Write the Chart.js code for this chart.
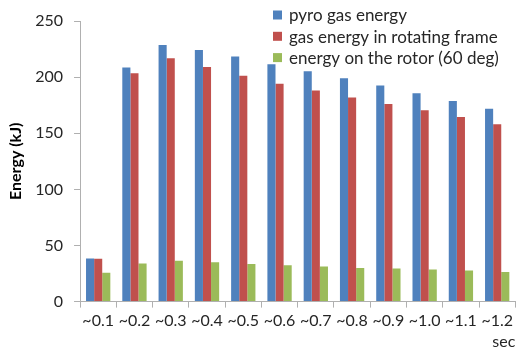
<!DOCTYPE html>
<html>
<head>
<meta charset="utf-8">
<script src="https://cdn.jsdelivr.net/npm/chart.js@4/dist/chart.umd.min.js"></script>
<style>
  html, body { margin: 0; padding: 0; background: #fff; }
  #wrap { width: 517px; height: 353px; }
</style>
</head>
<body>
<div id="wrap"><canvas id="c" width="517" height="353"></canvas></div>
<script>
// Time buckets (seconds)
const categories = ['~0.1', '~0.2', '~0.3', '~0.4', '~0.5', '~0.6', '~0.7', '~0.8', '~0.9', '~1.0', '~1.1', '~1.2'];

// Energy in kJ
const pyroGasEnergy   = [38.5, 208.5, 228.6, 224.1, 218.4, 211.5, 205.2, 198.9, 192.6, 185.7, 178.8, 171.9];
const rotatingFrame   = [38.2, 203.4, 216.9, 209.1, 201.3, 194.1, 188.1, 181.8, 176.1, 170.4, 164.4, 158.1];
const rotorEnergy60   = [25.8, 34.0, 36.3, 35.1, 33.6, 32.4, 31.2, 30.0, 29.4, 28.5, 27.6, 26.4];

const yTicks = [0, 50, 100, 150, 200, 250];

const FONT = 'Lato, "Open Sans", sans-serif';
const axisColor = '#b0b0b0';
const textColor = '#262626';

// Legend floating over the upper-right part of the plot
const floatingLegend = {
  id: 'floatingLegend',
  afterDraw(chart) {
    const ctx = chart.ctx;
    const left = 273, top = 15, rowGap = 21.3, box = 9;
    ctx.save();
    ctx.font = '17px ' + FONT;
    ctx.textBaseline = 'middle';
    ctx.textAlign = 'left';
    chart.data.datasets.forEach((ds, i) => {
      const cy = top + i * rowGap;
      ctx.fillStyle = ds.backgroundColor;
      ctx.fillRect(left, cy - box / 2, box, box);
      ctx.fillStyle = textColor;
      ctx.fillText(ds.label, left + 16, cy + 1);
    });
    ctx.restore();
  }
};

new Chart(document.getElementById('c'), {
  type: 'bar',
  data: {
    labels: categories,
    datasets: [
      { label: 'pyro gas energy', data: pyroGasEnergy, backgroundColor: '#4f81bd' },
      { label: 'gas energy in rotating frame', data: rotatingFrame, backgroundColor: '#c0504d' },
      { label: 'energy on the rotor (60 deg)', data: rotorEnergy60, backgroundColor: '#9bbb59' }
    ]
  },
  plugins: [floatingLegend],
  options: {
    responsive: false,
    animation: false,
    devicePixelRatio: 1,
    datasets: { bar: { categoryPercentage: 0.67, barPercentage: 1.0 } },
    layout: { padding: { top: 21, right: 0, left: 6, bottom: 2 } },
    plugins: {
      tooltip: { enabled: false },
      legend: { display: false }
    },
    scales: {
      x: {
        offset: true,
        grid: { display: true, drawOnChartArea: false, drawTicks: true, tickLength: 6, color: axisColor, offset: true },
        border: { display: true, color: axisColor },
        ticks: { font: { family: FONT, size: 16 }, color: textColor, padding: 4, maxRotation: 0, autoSkip: false },
        title: { display: true, text: 'sec', align: 'end', font: { family: FONT, size: 16 }, color: textColor, padding: { top: -3, bottom: 0 } }
      },
      y: {
        min: 0,
        max: 250,
        afterBuildTicks: (scale) => { scale.ticks = yTicks.map(v => ({ value: v })); },
        grid: { display: true, drawOnChartArea: false, drawTicks: true, tickLength: 6, color: axisColor },
        border: { display: true, color: axisColor },
        ticks: { font: { family: FONT, size: 16 }, color: textColor, padding: 11 },
        title: { display: true, text: 'Energy (kJ)', font: { family: FONT, size: 16, weight: 'bold' }, color: '#000', padding: { top: 0, bottom: -1 } }
      }
    }
  }
});
</script>
</body>
</html>
